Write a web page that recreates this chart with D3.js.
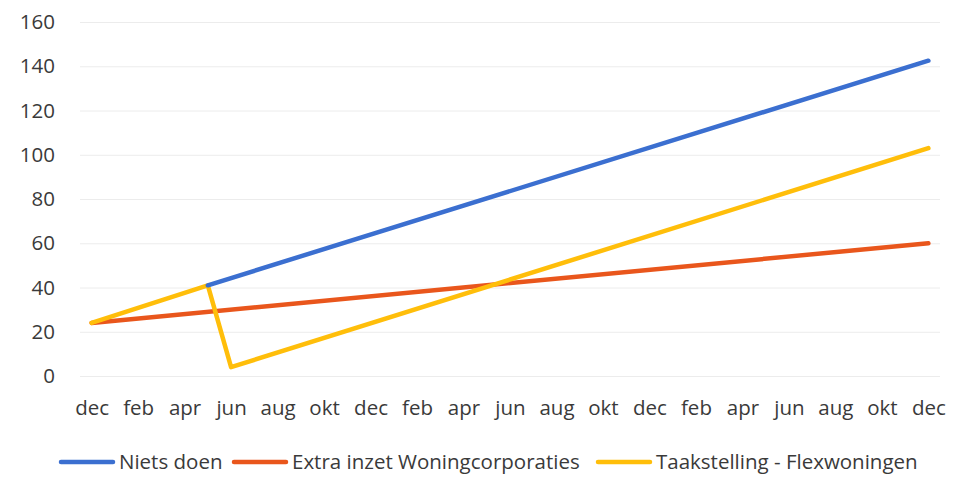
<!DOCTYPE html>
<html><head><meta charset="utf-8">
<script src="https://cdn.jsdelivr.net/npm/d3@7"></script>
<style>body{margin:0;background:#fff}svg{display:block}text{font-family:"Open Sans","Noto Sans",sans-serif;fill:#3a3a3a}</style>
</head><body><svg id="c" width="953" height="484"></svg>
<script>
const monthLabels = ["dec","feb","apr","jun","aug","okt","dec","feb","apr","jun","aug","okt","dec","feb","apr","jun","aug","okt","dec"];
const yTicks = [0,20,40,60,80,100,120,140,160];
const seriesNames = ["Niets doen","Extra inzet Woningcorporaties","Taakstelling - Flexwoningen"];
const seriesColors = ["#3b6fd0","#e9561c","#ffbe0a"];
// month index (0 = first dec) and values at the line's breakpoints
const nietsDoenMonths = [5, 36];
const nietsDoenValues = [41, 142.5];
const extraInzetMonths = [0, 36];
const extraInzetValues = [24, 60];
const taakstellingMonths = [0, 5, 6, 36];
const taakstellingValues = [24, 41, 4, 103];

const series = [
  {name: seriesNames[0], color: seriesColors[0], pts: nietsDoenMonths.map((m,i)=>[m,nietsDoenValues[i]])},
  {name: seriesNames[1], color: seriesColors[1], pts: extraInzetMonths.map((m,i)=>[m,extraInzetValues[i]])},
  {name: seriesNames[2], color: seriesColors[2], pts: taakstellingMonths.map((m,i)=>[m,taakstellingValues[i]])}
];

const svg = d3.select("#c");
const plotL = 80, plotR = 940, plotT = 22, plotB = 376;
const step = (plotR - plotL) / 37;
const x = d3.scaleLinear().domain([0, 36]).range([plotL + step/2, plotR - step/2]);
const y = d3.scaleLinear().domain([0, 160]).range([plotB, plotT]);
const fs = 20.5;

// gridlines
const yAxis = d3.axisLeft(y).tickValues(yTicks).tickSize(-(plotR - plotL)).tickPadding(25);
const gy = svg.append("g").attr("transform", `translate(${plotL},0)`).call(yAxis);
gy.select(".domain").remove();
gy.selectAll("line").attr("stroke", "#ececec").attr("stroke-width", 1);
gy.selectAll("text").attr("font-size", fs).attr("fill", "#3a3a3a").attr("font-family", null);

// x axis labels
const xAxis = d3.axisBottom(x).tickValues(d3.range(0, 37, 2)).tickFormat((d,i)=>monthLabels[i]).tickSize(0).tickPadding(24);
const gx = svg.append("g").attr("transform", `translate(0,${plotB})`).call(xAxis);
gx.select(".domain").remove();
gx.selectAll("text").attr("font-size", fs).attr("fill", "#3a3a3a").attr("font-family", null);

// lines
const line = d3.line().x(d=>x(d[0])).y(d=>y(d[1]));
svg.append("g").selectAll("path").data([series[1], series[2], series[0]]).join("path")
  .attr("d", d=>line(d.pts)).attr("fill","none").attr("stroke", d=>d.color)
  .attr("stroke-width", 4.5).attr("stroke-linejoin","round").attr("stroke-linecap","round");

// legend
const legendX = [61, 234, 598];
const lg = svg.append("g").attr("transform", "translate(0,462)");
series.forEach((s,i)=>{
  lg.append("line").attr("x1", legendX[i]).attr("x2", legendX[i]+52).attr("y1",0).attr("y2",0)
    .attr("stroke", s.color).attr("stroke-width", 4.5).attr("stroke-linecap","round");
  lg.append("text").attr("x", legendX[i]+58).attr("y", 0).attr("dy","0.35em")
    .attr("font-size", fs).text(s.name);
});
</script></body></html>
